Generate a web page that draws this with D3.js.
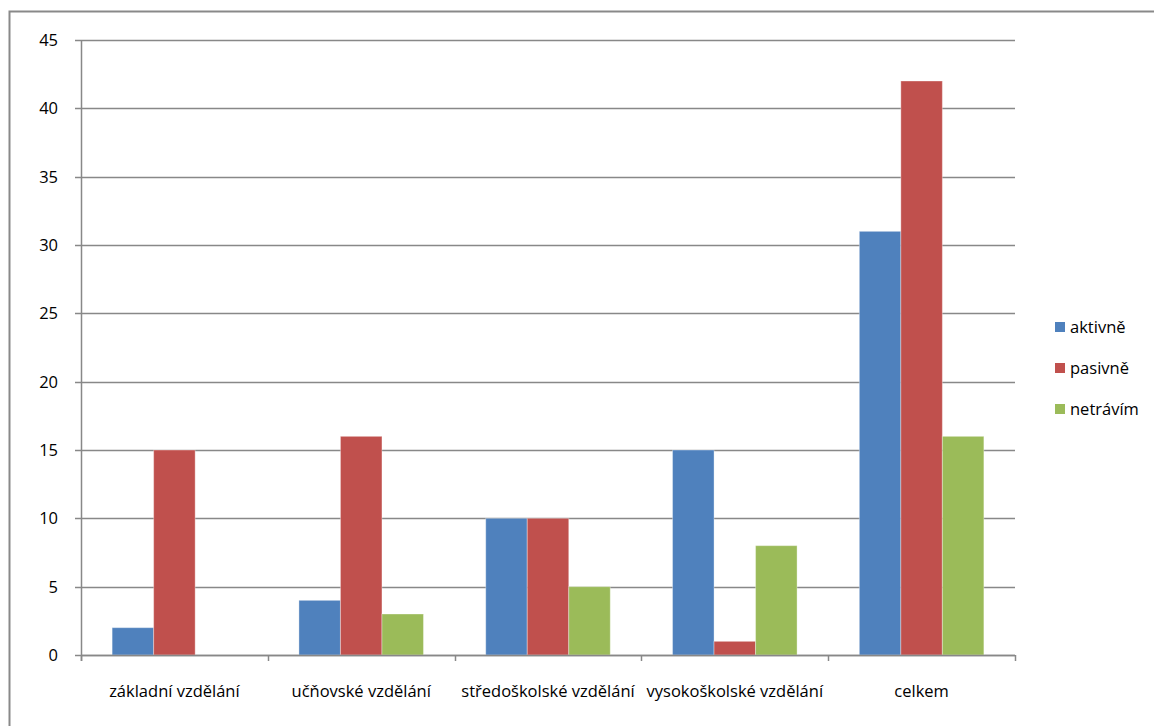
<!DOCTYPE html>
<html>
<head>
<meta charset="utf-8">
<script src="https://cdn.jsdelivr.net/npm/d3@7"></script>
<style>
  body { margin: 0; background: #fff; }
  text { font-family: "Open Sans", sans-serif; fill: #000; }
</style>
</head>
<body>
<div id="chart"></div>
<script>
// Chart data
const categories = ["základní vzdělání", "učňovské vzdělání", "středoškolské vzdělání", "vysokoškolské vzdělání", "celkem"];
const seriesNames = ["aktivně", "pasivně", "netrávím"];
const aktivne = [2, 4, 10, 15, 31];
const pasivne = [15, 16, 10, 1, 42];
const netravim = [0, 3, 5, 8, 16];
const yTicks = [0, 5, 10, 15, 20, 25, 30, 35, 40, 45];
const colors = ["#4F81BD", "#C0504D", "#9BBB59"];

const width = 1154, height = 726;
const plot = { left: 81, right: 1015, top: 40, bottom: 655 };
const fontSize = "16.5px";

const svg = d3.select("#chart").append("svg")
    .attr("width", width)
    .attr("height", height);

// outer chart border (runs off the right and bottom edge)
svg.append("rect")
    .attr("x", 9.5).attr("y", 11.5)
    .attr("width", 1200).attr("height", 800)
    .attr("fill", "none")
    .attr("stroke", "#898989")
    .attr("stroke-width", 2);

const x0 = d3.scaleBand()
    .domain(categories)
    .range([plot.left, plot.right])
    .paddingInner(0).paddingOuter(0);

// gap width 150% -> bars take 3/4.5 of the band
const groupW = x0.bandwidth() * 3 / 4.5;
const x1 = d3.scaleBand()
    .domain(seriesNames)
    .range([0, groupW]);

const y = d3.scaleLinear()
    .domain([0, 45])
    .range([plot.bottom, plot.top]);

// gridlines
svg.append("g")
    .selectAll("line")
    .data(yTicks)
    .join("line")
    .attr("x1", plot.left - 6)
    .attr("x2", plot.right)
    .attr("y1", d => Math.round(y(d)) + 0.5)
    .attr("y2", d => Math.round(y(d)) + 0.5)
    .attr("stroke", "#888")
    .attr("stroke-width", 1.5);

// y labels
svg.append("g")
    .selectAll("text")
    .data(yTicks)
    .join("text")
    .attr("x", 58)
    .attr("y", d => y(d) + 6)
    .attr("text-anchor", "end")
    .style("font-size", fontSize)
    .text(d => d);

// bars
const series = [aktivne, pasivne, netravim];
const rows = categories.map((c, i) => ({
    cat: c,
    vals: seriesNames.map((s, j) => ({ name: s, value: series[j][i], color: colors[j] }))
}));

const groups = svg.append("g")
    .selectAll("g")
    .data(rows)
    .join("g")
    .attr("transform", d => `translate(${x0(d.cat) + (x0.bandwidth() - groupW) / 2},0)`);

groups.selectAll("rect")
    .data(d => d.vals.filter(v => v.value > 0))
    .join("rect")
    .attr("x", d => x1(d.name))
    .attr("width", x1.bandwidth())
    .attr("y", d => y(d.value))
    .attr("height", d => y(0) - y(d.value))
    .attr("fill", d => d.color)
    .attr("stroke", "rgba(255,255,255,0.35)")
    .attr("stroke-width", 1);

// axes lines
svg.append("line")
    .attr("x1", plot.left + 0.5).attr("x2", plot.left + 0.5)
    .attr("y1", plot.top).attr("y2", plot.bottom + 6)
    .attr("stroke", "#888").attr("stroke-width", 1.5);

svg.append("line")
    .attr("x1", plot.left).attr("x2", plot.right)
    .attr("y1", plot.bottom + 0.5).attr("y2", plot.bottom + 0.5)
    .attr("stroke", "#888").attr("stroke-width", 1.5);

// category ticks
const tickXs = categories.map(c => x0(c)).concat([plot.right]);
svg.append("g")
    .selectAll("line")
    .data(tickXs)
    .join("line")
    .attr("x1", d => Math.round(d) + 0.5)
    .attr("x2", d => Math.round(d) + 0.5)
    .attr("y1", plot.bottom)
    .attr("y2", plot.bottom + 6)
    .attr("stroke", "#888").attr("stroke-width", 1.5);

// category labels
svg.append("g")
    .selectAll("text")
    .data(categories)
    .join("text")
    .attr("x", d => x0(d) + x0.bandwidth() / 2)
    .attr("y", 697)
    .attr("text-anchor", "middle")
    .style("font-size", fontSize)
    .text(d => d);

// legend
const legend = svg.append("g")
    .attr("transform", "translate(1055, 322)");

const items = legend.selectAll("g")
    .data(seriesNames)
    .join("g")
    .attr("transform", (d, i) => `translate(0, ${i * 41})`);

items.append("rect")
    .attr("width", 10)
    .attr("height", 10)
    .attr("fill", (d, i) => colors[i]);

items.append("text")
    .attr("x", 15)
    .attr("y", 11)
    .style("font-size", fontSize)
    .text(d => d);
</script>
</body>
</html>
